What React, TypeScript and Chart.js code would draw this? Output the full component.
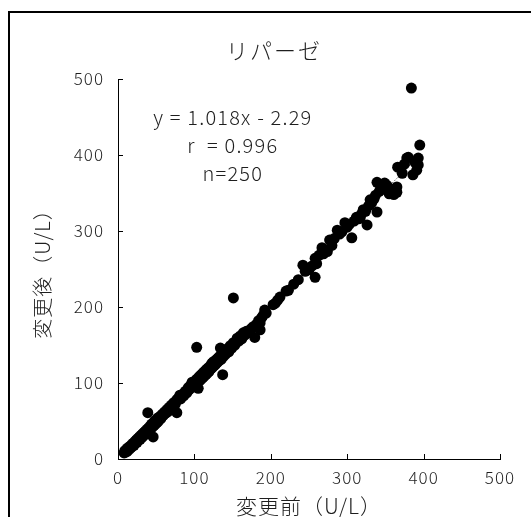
import React, { useEffect, useRef } from "react";
import { Chart, registerables } from "chart.js";

Chart.register(...registerables);

const chartTitle = "リパーゼ";
const xAxisTitle = "変更前（U/L）";
const yAxisTitle = "変更後（U/L）";
const axisTicks = [0, 100, 200, 300, 400, 500];

// [変更前, 変更後] pairs
const samples: [number, number][] = [
  [8, 8], [9, 11], [10, 9], [11, 12], [12, 10], [12, 14], [13, 12], [14, 15], [15, 13], [16, 17],
  [17, 15], [18, 19], [19, 17], [20, 21], [21, 18], [22, 23], [23, 21], [24, 25], [25, 22], [26, 27],
  [27, 25], [28, 29], [29, 26], [30, 31], [31, 28], [32, 33], [33, 30], [34, 35], [35, 32], [36, 37],
  [37, 34], [38, 39], [39, 61], [39, 36], [40, 41], [41, 38], [42, 43], [43, 40], [44, 46], [45, 42],
  [46, 29], [46, 47], [47, 44], [48, 50], [49, 46], [50, 51], [51, 48], [52, 54], [53, 50], [55, 56],
  [56, 53], [58, 59], [59, 57], [61, 62], [62, 60], [64, 65], [65, 62], [67, 68], [68, 65], [70, 71],
  [71, 69], [73, 74], [75, 72], [77, 61], [77, 78], [79, 80], [81, 84], [82, 79], [84, 85], [86, 83],
  [88, 89], [90, 87], [92, 94], [93, 91], [95, 97], [96, 94], [97, 101], [98, 95], [100, 102], [101, 98],
  [103, 147], [103, 105], [104, 100], [105, 93], [106, 108], [107, 103], [108, 110], [109, 105], [110, 112], [111, 107],
  [112, 114], [113, 109], [114, 116], [115, 111], [116, 118], [117, 113], [118, 120], [119, 115], [120, 117], [121, 123],
  [122, 119], [123, 126], [124, 121], [125, 128], [126, 123], [127, 129], [128, 125], [129, 131], [130, 127], [131, 133],
  [132, 129], [133, 135], [134, 134], [134, 146], [135, 131], [136, 138], [137, 111], [138, 135], [140, 142], [141, 138],
  [143, 145], [145, 141], [147, 149], [149, 146], [151, 153], [151, 212], [153, 150], [156, 159], [158, 155], [160, 162],
  [162, 158], [164, 166], [166, 163], [168, 168], [170, 166], [173, 170], [175, 172], [177, 174], [179, 160], [181, 177],
  [184, 182], [186, 179], [186, 170], [188, 186], [190, 189], [192, 196], [194, 192], [203, 203], [206, 205], [209, 209],
  [212, 213], [220, 221], [223, 222], [230, 230], [236, 236], [242, 255], [245, 247], [247, 251], [250, 249], [254, 254],
  [258, 239], [258, 264], [260, 257], [263, 268], [267, 278], [269, 270], [271, 275], [274, 273], [277, 288], [280, 281],
  [283, 290], [287, 301], [290, 296], [293, 299], [297, 311], [300, 305], [303, 309], [306, 291], [309, 313], [312, 318],
  [315, 316], [317, 317], [319, 323], [321, 328], [324, 326], [326, 308], [328, 333], [330, 341], [332, 337], [335, 342],
  [337, 347], [339, 325], [339, 364], [342, 352], [344, 358], [346, 355], [349, 363], [352, 360], [355, 349], [358, 355],
  [361, 348], [365, 351], [365, 358], [366, 384], [369, 384], [372, 376], [375, 388], [378, 396], [380, 397], [384, 488],
  [386, 374], [389, 390], [391, 380], [393, 396], [393, 387], [395, 413],
];

// regression line end points (y = 1.018x - 2.29)
const trendX = [9, 395];
const trendY = [6.9, 399.8];

const annotationLines = ["y = 1.018x - 2.29", "r  = 0.996", "n=250"];
const annotationX = 149;
const annotationY = [449, 413, 376];

const FONT = "'Noto Sans CJK JP', 'Noto Sans', sans-serif";
const TEXT = "#1e1e1e";

const spacingPlugin = {
  id: "spacing",
  beforeDraw(chart: any) {
    chart.ctx.letterSpacing = "1px";
  },
};

const overlayPlugin = {
  id: "overlay",
  afterDraw(chart: any) {
    const ctx = chart.ctx;
    const xs = chart.scales.x;
    const ys = chart.scales.y;
    const area = chart.chartArea;
    ctx.save();
    // inward tick marks
    ctx.strokeStyle = "#000";
    ctx.lineWidth = 1;
    ctx.beginPath();
    axisTicks.forEach((v) => {
      if (v === 0) return;
      const px = Math.round(xs.getPixelForValue(v)) + 0.5;
      ctx.moveTo(px, area.bottom);
      ctx.lineTo(px, area.bottom - 5);
      const py = Math.round(ys.getPixelForValue(v)) + 0.5;
      ctx.moveTo(area.left, py);
      ctx.lineTo(area.left + 5, py);
    });
    ctx.stroke();
    // chart title
    ctx.fillStyle = TEXT;
    ctx.textAlign = "center";
    ctx.textBaseline = "middle";
    ctx.letterSpacing = "2px";
    ctx.font = `300 22px ${FONT}`;
    ctx.fillText(chartTitle, 274, 51);
    // regression annotation
    ctx.letterSpacing = "1.2px";
    ctx.font = `300 20px ${FONT}`;
    annotationLines.forEach((t, i) => {
      ctx.fillText(t, xs.getPixelForValue(annotationX) + 1, ys.getPixelForValue(annotationY[i]));
    });
    ctx.restore();
  },
};

export default function App() {
  const ref = useRef<HTMLCanvasElement>(null);
  useEffect(() => {
    if (!ref.current) return;
    const chart = new Chart(ref.current, {
      type: "scatter",
      data: {
        datasets: [
          {
            label: "data",
            data: samples.map(([x, y]) => ({ x, y })),
            backgroundColor: "#000",
            borderWidth: 0,
            pointRadius: 5.5,
            order: 1,
          },
          {
            label: "trend",
            type: "line",
            data: trendX.map((x, i) => ({ x, y: trendY[i] })),
            borderColor: "#000",
            borderWidth: 1,
            borderDash: [1, 2],
            pointRadius: 0,
            showLine: true,
            fill: false,
            order: 0,
          } as any,
        ],
      },
      options: {
        animation: false,
        responsive: false,
        devicePixelRatio: 1,
        layout: { padding: { top: 79, right: 31, left: 0, bottom: 0 } },
        plugins: { legend: { display: false }, tooltip: { enabled: false }, title: { display: false } },
        scales: {
          x: {
            type: "linear",
            min: 0,
            max: 500,
            afterFit: (s: any) => {
              s.height = 58;
            },
            afterBuildTicks: (s: any) => {
              s.ticks = axisTicks.map((v) => ({ value: v }));
            },
            grid: { display: true, drawOnChartArea: false, drawTicks: false },
            border: { display: true, color: "#000", width: 1 },
            ticks: { padding: 8, color: TEXT, font: { family: FONT, size: 17, weight: "300" } },
            title: {
              display: true,
              text: xAxisTitle,
              color: TEXT,
              font: { family: FONT, size: 21, lineHeight: 1, weight: "300" },
              padding: { top: 0, bottom: 0 },
            },
          },
          y: {
            type: "linear",
            min: 0,
            max: 500,
            afterFit: (s: any) => {
              s.width = 118;
            },
            afterBuildTicks: (s: any) => {
              s.ticks = axisTicks.map((v) => ({ value: v }));
            },
            grid: { display: true, drawOnChartArea: false, drawTicks: false },
            border: { display: true, color: "#000", width: 1 },
            ticks: { padding: 14, color: TEXT, font: { family: FONT, size: 17, weight: "300" } },
            title: {
              display: true,
              text: yAxisTitle,
              color: TEXT,
              font: { family: FONT, size: 20, lineHeight: 1, weight: "300" },
              padding: { top: 32, bottom: 0 },
            },
          },
        },
      },
      plugins: [spacingPlugin, overlayPlugin],
    });
    return () => chart.destroy();
  }, []);

  return (
    <div style={{ position: "absolute", left: 0, top: 0, width: 531, height: 517, overflow: "hidden", background: "#fff" }}>
      <canvas ref={ref} width={531} height={517} style={{ display: "block", position: "absolute", left: 0, top: 0 }} />
      <div
        style={{
          position: "absolute",
          left: 8,
          top: 11,
          width: 523,
          height: 506,
          boxSizing: "border-box",
          borderTop: "2px solid #000",
          borderLeft: "2px solid #000",
          pointerEvents: "none",
        }}
      />
    </div>
  );
}
